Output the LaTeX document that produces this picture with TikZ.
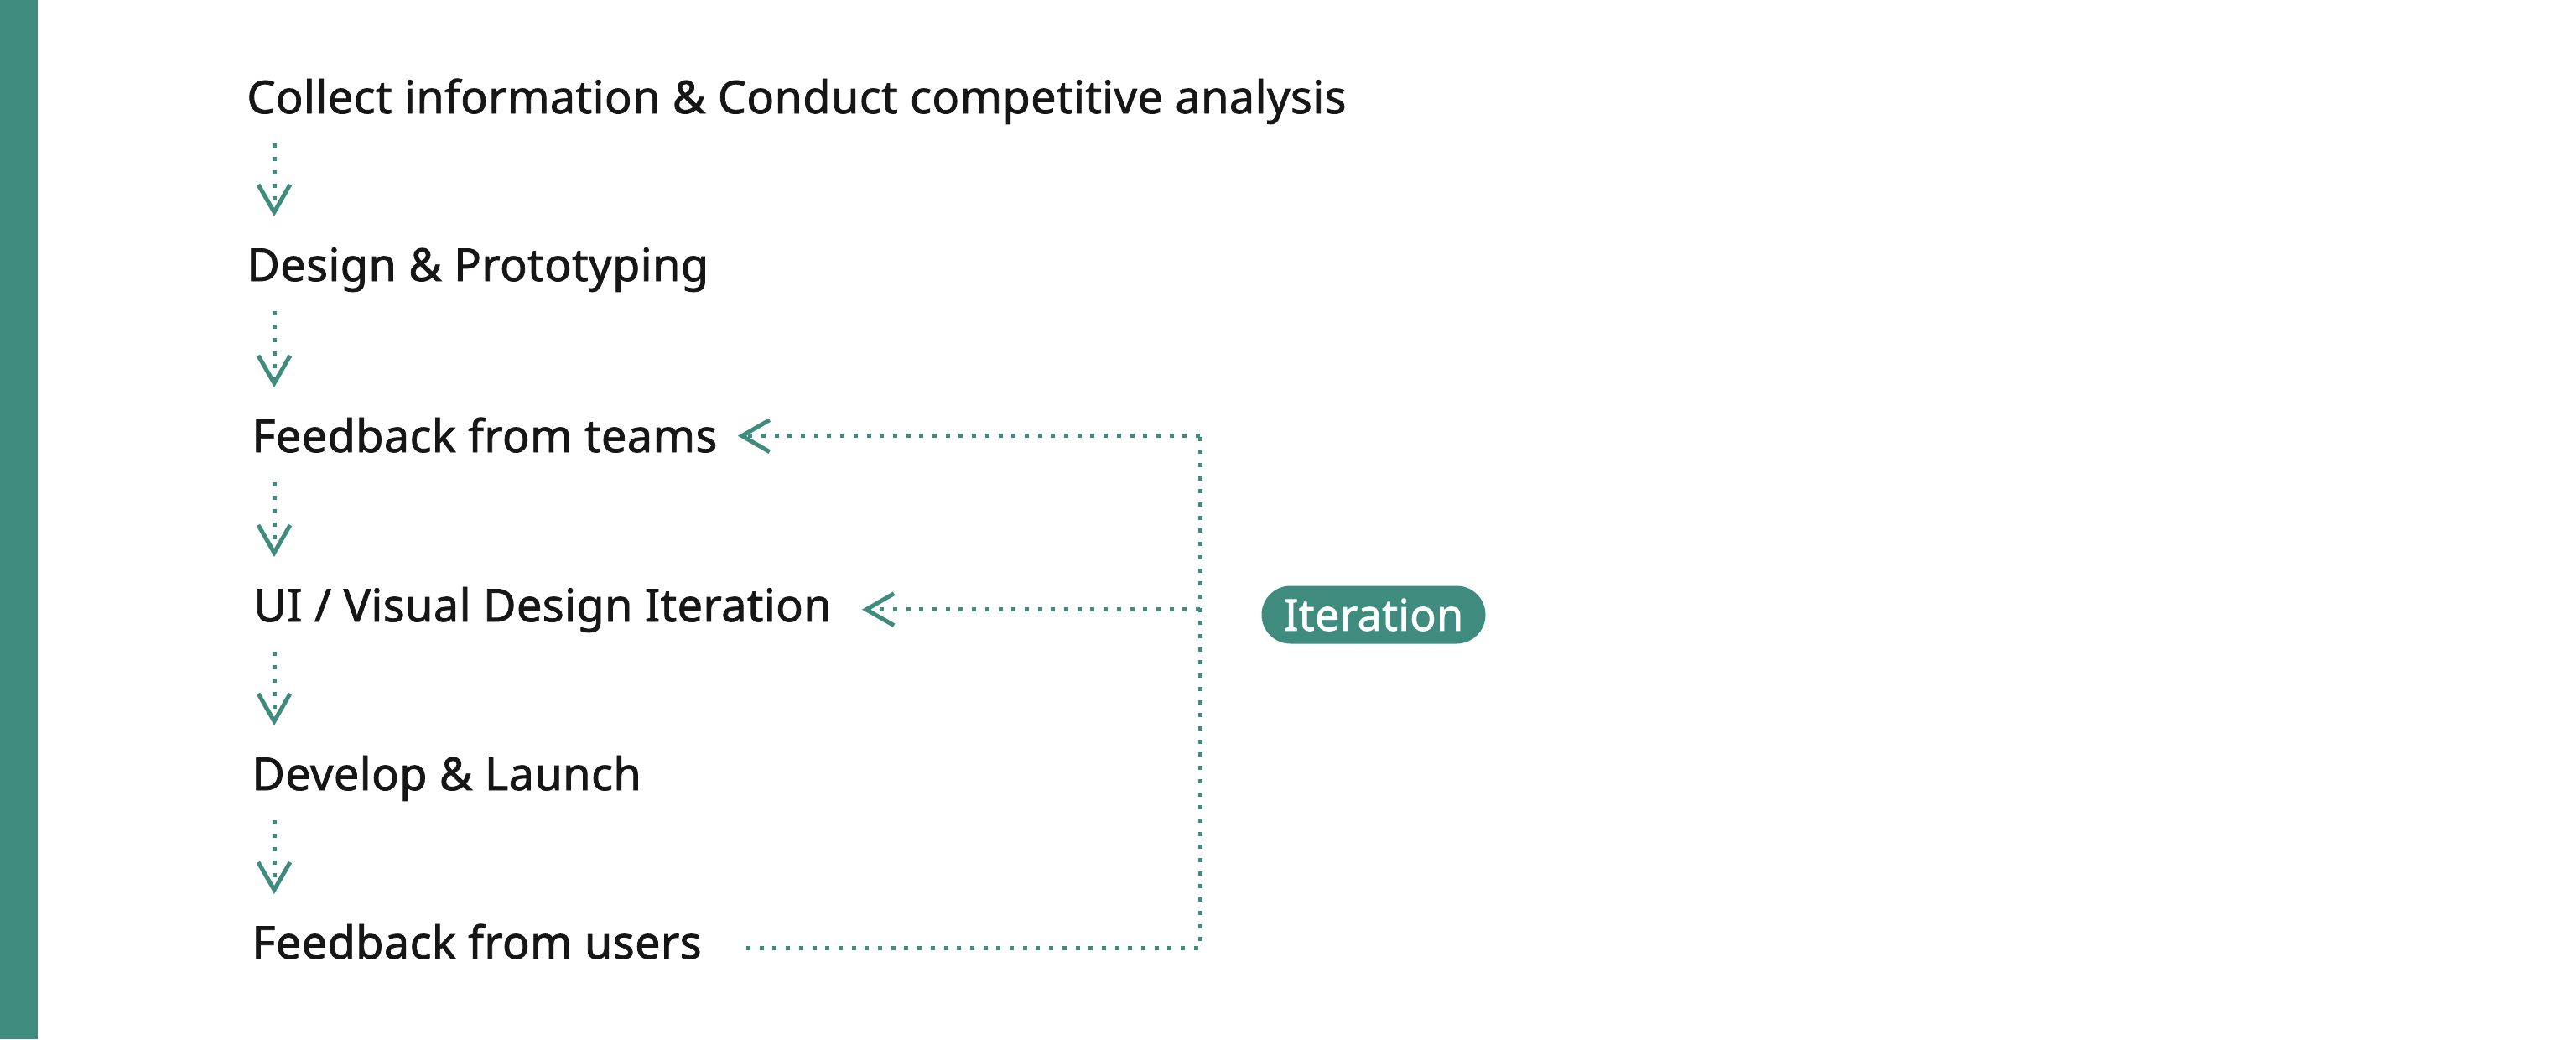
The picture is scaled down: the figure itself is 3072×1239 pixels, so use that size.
\documentclass[tikz,border=0pt]{standalone}
\usepackage{fontspec}
\setmainfont{Noto Sans}[FakeBold=1.4,LetterSpace=0.8]
\usetikzlibrary{arrows.meta,calc}
\definecolor{teal}{RGB}{63,140,127}
\definecolor{ink}{RGB}{22,22,22}
\begin{document}
\begin{tikzpicture}[x=0.5pt,y=-0.5pt,
  stage/.style={anchor=base west,inner sep=0pt,text height=19.3pt,text depth=0pt,
    text=ink,font=\fontsize{27pt}{32pt}\selectfont},
  flow/.style={draw=teal,line width=2.5pt,dash pattern=on 2.5pt off 5.35pt,
    -{Straight Barb[length=16.5pt,width=19pt,line width=2.5pt]}},
  rail/.style={draw=teal,line width=2.5pt,dash pattern=on 2.5pt off 5.35pt},
  pill/.style={fill=teal,text=white,rounded corners=17.25pt,inner sep=0pt,
    minimum width=133.5pt,minimum height=34.5pt,
    font=\fontsize{26pt}{30pt}\selectfont}]
  % canvas and side bar
  \fill[white] (0,0) rectangle (3072,1239);
  \useasboundingbox (0,0) rectangle (3072,1239);
  \fill[teal] (0,0) rectangle (45,1239);

  % process stages
  \node[stage] (collect) at (294,135) {Collect information \& Conduct competitive analysis};
  \node[stage] (design)  at (294,335) {Design \& Prototyping};
  \node[stage] (teams)   at (300,539) {Feedback from teams};
  \node[stage] (ui)      at (302,741) {UI / Visual Design Iteration};
  \node[stage] (launch)  at (300,942) {Develop \& Launch};
  \node[stage] (users)   at (300,1143) {Feedback from users};

  % iteration badge
  \node[pill] (iter) at (1638,733) {Iteration};

  % downward flow
  \coordinate (spine) at (327,0);
  \foreach \a/\b in {collect/design,design/teams,teams/ui,ui/launch,launch/users}
    \draw[flow] ($(spine |- \a.south)+(0,36)$) -- ($(spine |- \b.north)+(0,-38)$);

  % feedback loop
  \coordinate (loop) at (1431,0);
  \coordinate (loopstart) at ($(users.east)+(53,7)$);
  \coordinate (loopend) at ($(teams.east)+(24,0)$);
  \coordinate (uiend) at ($(ui.east)+(36,5)$);
  \draw[rail] (loopstart) -- (loop |- loopstart) -- (loop |- loopend);
  \draw[flow] (loop |- loopend) -- (loopend);
  \draw[flow] (loop |- uiend) -- (uiend);
\end{tikzpicture}
\end{document}
